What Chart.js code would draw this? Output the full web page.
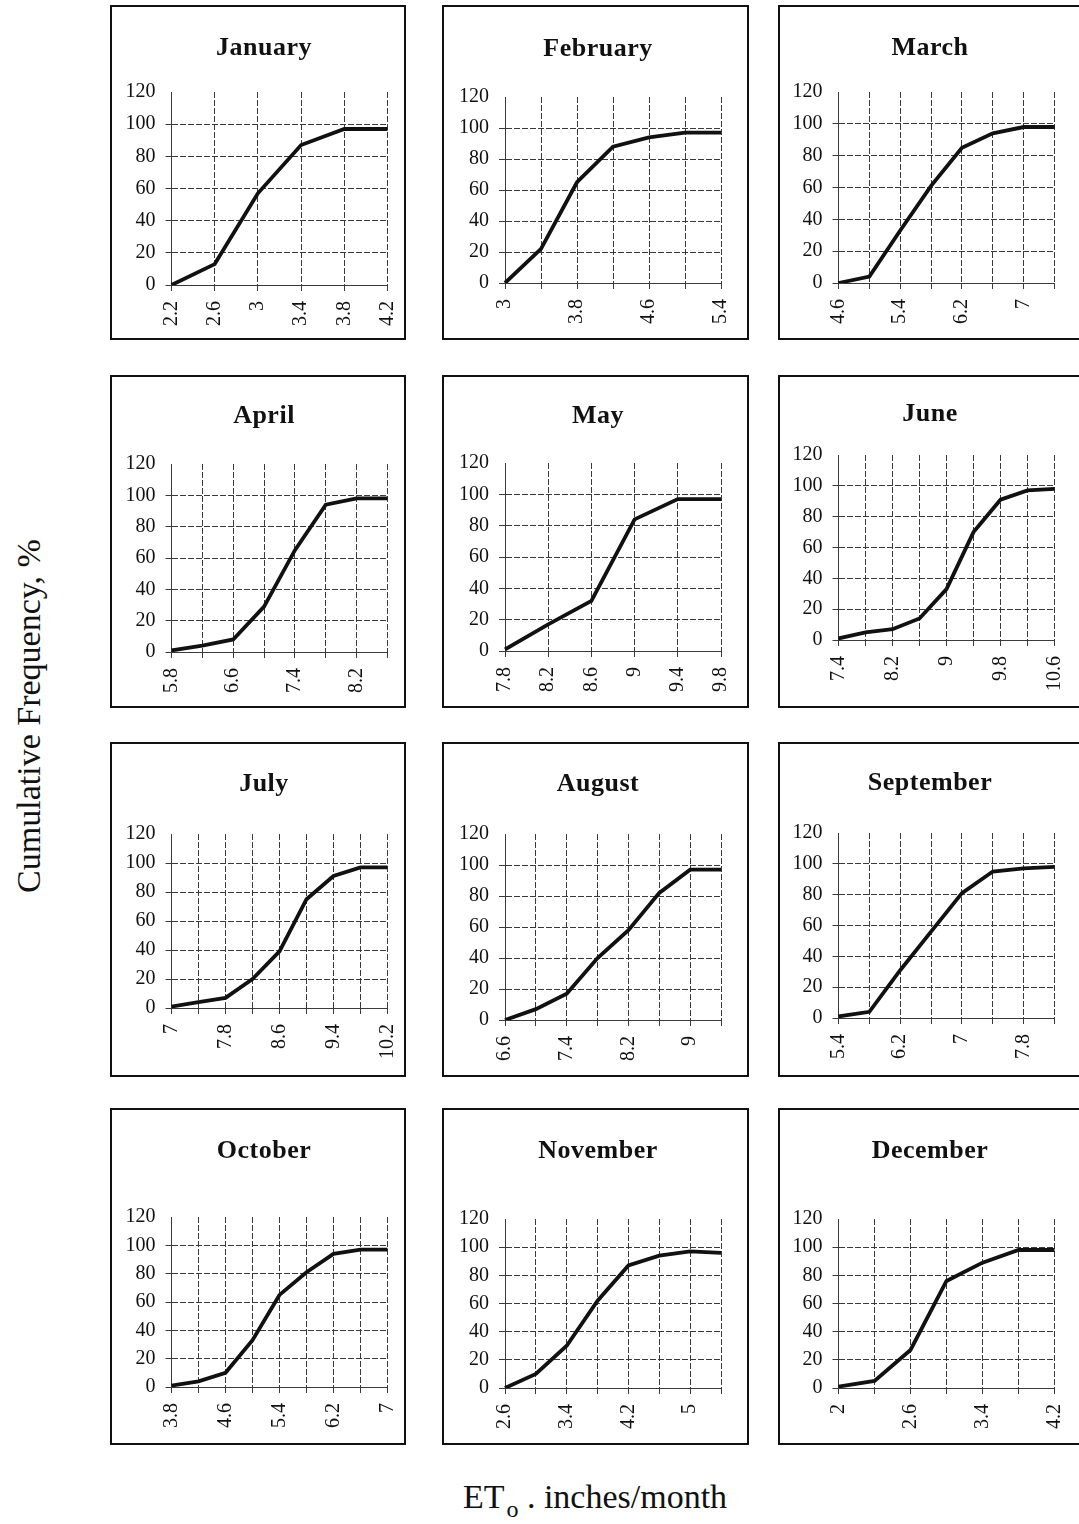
<!DOCTYPE html>
<html>
<head>
<meta charset="utf-8">
<script src="https://cdn.jsdelivr.net/npm/chart.js@4.4.0/dist/chart.umd.min.js"></script>
<style>
body { margin: 0; background: #fff; width: 1079px; height: 1524px; position: relative; overflow: hidden; font-family: "Liberation Serif", "Times New Roman", serif; }
.panel { position: absolute; border: 2px solid #111; box-sizing: border-box; background: #fff; }
.panel canvas { position: absolute; left: 0; top: 0; }
.ttl { position: absolute; font-size: 26px; font-weight: bold; line-height: 30px; white-space: nowrap; transform: translate(-50%, -50%); color: #111; letter-spacing: 0.5px; }
#ylab { position: absolute; left: 29px; top: 716px; font-size: 34px; white-space: nowrap; transform: translate(-50%, -50%) rotate(-90deg); color: #111; }
#xlab { position: absolute; left: 595px; top: 1478px; font-size: 34px; white-space: nowrap; transform: translateX(-50%); color: #111; }
#xlab span { font-size: 24px; position: relative; top: 9px; margin-left: 2px; }
</style>
</head>
<body>
<div id="ylab">Cumulative Frequency, %</div>
<div id="xlab">ET<span>o</span> . inches/month</div>
<script>
// 월별 누적빈도 (ETo, inches/month)
var months = ['January', 'February', 'March', 'April', 'May', 'June',
              'July', 'August', 'September', 'October', 'November', 'December'];

var janX = ['2.2', '2.6', '3', '3.4', '3.8', '4.2'];
var janY = [0, 13, 57, 87, 97, 97];
var febX = ['3', '3.4', '3.8', '4.2', '4.6', '5', '5.4'];
var febY = [0, 22, 65, 88, 94, 97, 97];
var marX = ['4.6', '5', '5.4', '5.8', '6.2', '6.6', '7', '7.4'];
var marY = [0, 4, 33, 61, 85, 94, 98, 98];
var aprX = ['5.8', '6.2', '6.6', '7', '7.4', '7.8', '8.2', '8.6'];
var aprY = [1, 4, 8, 29, 65, 94, 98, 98];
var mayX = ['7.8', '8.2', '8.6', '9', '9.4', '9.8'];
var mayY = [1, 17, 32, 84, 97, 97];
var junX = ['7.4', '7.8', '8.2', '8.6', '9', '9.4', '9.8', '10.2', '10.6'];
var junY = [1, 5, 7, 14, 33, 70, 91, 97, 98];
var julX = ['7', '7.4', '7.8', '8.2', '8.6', '9', '9.4', '9.8', '10.2'];
var julY = [1, 4, 7, 20, 39, 75, 91, 97, 97];
var augX = ['6.6', '7', '7.4', '7.8', '8.2', '8.6', '9', '9.4'];
var augY = [0, 7, 17, 40, 58, 82, 97, 97];
var sepX = ['5.4', '5.8', '6.2', '6.6', '7', '7.4', '7.8', '8.2'];
var sepY = [1, 4, 31, 56, 81, 95, 97, 98];
var octX = ['3.8', '4.2', '4.6', '5', '5.4', '5.8', '6.2', '6.6', '7'];
var octY = [1, 4, 10, 33, 65, 81, 94, 97, 97];
var novX = ['2.6', '3', '3.4', '3.8', '4.2', '4.6', '5', '5.4'];
var novY = [0, 10, 30, 62, 87, 94, 97, 96];
var decX = ['2', '2.2', '2.6', '3', '3.4', '3.8', '4.2'];
var decY = [1, 5, 27, 76, 89, 98, 98];

var yTicks = [0, 20, 40, 60, 80, 100, 120];

var allX = [janX, febX, marX, aprX, mayX, junX, julX, augX, sepX, octX, novX, decX];
var allY = [janY, febY, marY, aprY, mayY, junY, julY, augY, sepY, octY, novY, decY];

// 패널 위치 (박스, 플롯 위/아래, 제목 위치)
var colBox = [[110, 296], [442, 307], [778, 304]];
var rowBox = [[5, 335], [375, 333], [742, 335], [1108, 337]];
var plotTB = [[92, 285], [97, 283], [92, 283],
              [464, 652], [463, 651], [455, 640],
              [834, 1008], [834, 1020], [833, 1018],
              [1217, 1387], [1219, 1388], [1219, 1388]];
var titleY = [47, 48, 47, 415, 415, 413, 783, 783, 782, 1150, 1150, 1150];
var titleX = [264, 598, 930];

var gridColor = '#3a3a3a';
var serif = '"Liberation Serif", "Times New Roman", serif';

months.forEach(function(name, i) {
    var col = i % 3, row = Math.floor(i / 3);
    var bx = colBox[col][0], bw = colBox[col][1];
    var by = rowBox[row][0], bh = rowBox[row][1];

    var div = document.createElement('div');
    div.className = 'panel';
    div.style.left = bx + 'px';
    div.style.top = by + 'px';
    div.style.width = bw + 'px';
    div.style.height = bh + 'px';
    var cv = document.createElement('canvas');
    var cw = bw - 4, ch = bh - 4;
    cv.width = cw; cv.height = ch;
    cv.style.width = cw + 'px'; cv.style.height = ch + 'px';
    div.appendChild(cv);

    var ox = bx + 2, oy = by + 2;
    var ttl = document.createElement('div');
    ttl.className = 'ttl';
    ttl.textContent = name;
    ttl.style.left = (titleX[col] - ox) + 'px';
    ttl.style.top = (titleY[i] - oy) + 'px';
    div.appendChild(ttl);
    document.body.appendChild(div);

    var axisW = 172 + col * 333.5 - ox - 0.5;
    var plotTop = plotTB[i][0] - oy;
    var axisH = ch - (plotTB[i][1] - oy);
    var rightPad = cw - axisW - 216;
    var labels = allX[i];
    var skip = labels.length > 6;

    new Chart(cv.getContext('2d'), {
        type: 'line',
        data: {
            labels: labels,
            datasets: [{
                label: name,
                data: allY[i],
                borderColor: '#111',
                borderWidth: 3.8,
                pointRadius: 0,
                tension: 0,
                fill: false
            }]
        },
        options: {
            responsive: false,
            animation: false,
            layout: { padding: { left: 0, right: rightPad, top: plotTop, bottom: 0 } },
            plugins: {
                legend: { display: false },
                tooltip: { enabled: false },
                title: { display: false }
            },
            scales: {
                x: {
                    type: 'category',
                    offset: false,
                    afterFit: function(s) {
                        s.height = axisH;
                        s.paddingLeft = 0;
                        s.paddingRight = 0;
                    },
                    grid: { color: gridColor, lineWidth: 1, tickLength: 6 },
                    border: { color: gridColor, dash: [6, 2] },
                    ticks: {
                        autoSkip: false,
                        minRotation: 90,
                        maxRotation: 90,
                        padding: 10,
                        color: '#111',
                        font: { family: serif, size: 20 },
                        callback: function(v, idx) {
                            return (skip && idx % 2) ? '' : labels[idx];
                        }
                    }
                },
                y: {
                    min: yTicks[0],
                    max: yTicks[yTicks.length - 1],
                    afterFit: function(s) {
                        s.width = axisW;
                        s.paddingTop = 0;
                        s.paddingBottom = 0;
                    },
                    grid: {
                        lineWidth: 1,
                        tickLength: 6,
                        color: function(c) {
                            return (c.tick && c.tick.value === 120) ? 'rgba(0,0,0,0)' : gridColor;
                        }
                    },
                    border: { color: gridColor, dash: [6, 2] },
                    ticks: {
                        stepSize: 20,
                        padding: 10,
                        color: '#111',
                        font: { family: serif, size: 20 }
                    }
                }
            }
        }
    });
});
</script>
</body>
</html>
